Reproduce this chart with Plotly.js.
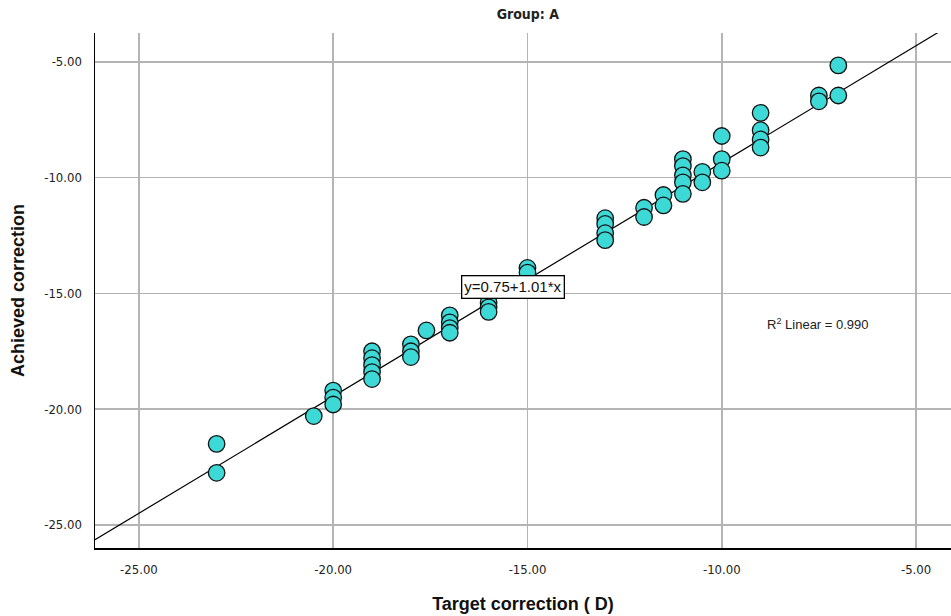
<!DOCTYPE html>
<html>
<head>
<meta charset="utf-8">
<script src="https://cdn.plot.ly/plotly-3.0.1.min.js"></script>
<style>html,body{margin:0;padding:0;background:#fff;}#chart{width:951px;height:616px;}</style>
</head>
<body>
<div id="chart"></div>
<script>
// Data
const targetX = [
  -23, -23,
  -20.5,
  -20, -20, -20,
  -19, -19, -19, -19, -19,
  -18, -18, -18,
  -17.6,
  -17, -17, -17, -17,
  -16, -16, -16,
  -15, -15,
  -13, -13, -13, -13,
  -12, -12,
  -11.5, -11.5,
  -11, -11, -11, -11, -11,
  -10.5, -10.5,
  -10, -10, -10,
  -9, -9, -9, -9,
  -7.5, -7.5,
  -7, -7
];
const achievedY = [
  -21.5, -22.75,
  -20.3,
  -19.2, -19.5, -19.8,
  -17.5, -17.8, -18.1, -18.4, -18.7,
  -17.2, -17.5, -17.75,
  -16.6,
  -15.95, -16.25, -16.5, -16.7,
  -15.4, -15.6, -15.8,
  -13.9, -14.1,
  -11.75, -12.0, -12.4, -12.7,
  -11.3, -11.7,
  -10.75, -11.2,
  -9.2, -9.5, -9.9, -10.2, -10.7,
  -9.75, -10.2,
  -8.2, -9.2, -9.7,
  -7.2, -7.95, -8.35, -8.7,
  -6.45, -6.7,
  -5.15, -6.45
];
const fitIntercept = 0.75;
const fitSlope = 1.01;
const rSquared = 0.990;
const xTicks = [-25, -20, -15, -10, -5];
const yTicks = [-25, -20, -15, -10, -5];
const xTickText = xTicks.map(v => v.toFixed(2));
const yTickText = yTicks.map(v => v.toFixed(2));
const xRange = [-26.13, -4.1];
const yRange = [-26.0, -3.75];

const fitX = xRange.slice();
const fitY = fitX.map(v => fitIntercept + fitSlope * v);

const narrow = "'DejaVu Sans Condensed', 'Liberation Sans Narrow', 'Arial Narrow', 'Liberation Sans', Arial, sans-serif";
const sans = "'Liberation Sans', Arial, sans-serif";

const traces = [
  {
    x: fitX, y: fitY, mode: 'lines', type: 'scatter',
    line: {color: '#000', width: 1.2}, hoverinfo: 'skip', showlegend: false
  },
  {
    x: targetX, y: achievedY, mode: 'markers', type: 'scatter',
    marker: {size: 16.5, color: '#3dd9d6', line: {color: '#111', width: 1.3}},
    showlegend: false
  }
];

const layout = {
  width: 951, height: 616,
  margin: {l: 95, r: 0, t: 33, b: 68},
  paper_bgcolor: '#fff', plot_bgcolor: '#fff',
  title: {text: '<b>Group: A</b>', font: {family: narrow, size: 14, color: '#222'}, x: 0.555, xanchor: 'center', y: 0.985, yanchor: 'top'},
  xaxis: {
    range: xRange, tickvals: xTicks, ticktext: xTickText,
    showgrid: true, gridcolor: '#b4b4b4', gridwidth: 1.5,
    zeroline: false, showline: true, linecolor: '#000', linewidth: 1.5,
    ticks: '', ticklabelstandoff: 9,
    tickfont: {family: narrow, size: 13, color: '#222'},
    title: {text: '<b>Target correction ( D)</b>', font: {family: sans, size: 18, color: '#111'}, standoff: 21}
  },
  yaxis: {
    range: yRange, tickvals: yTicks, ticktext: yTickText,
    showgrid: true, gridcolor: '#b4b4b4', gridwidth: 1.5,
    zeroline: false, showline: true, linecolor: '#000', linewidth: 1.5,
    ticks: '', ticklabelstandoff: 9,
    tickfont: {family: narrow, size: 13, color: '#222'},
    title: {text: '<b>Achieved correction</b>', font: {family: sans, size: 18, color: '#111'}, standoff: 15}
  },
  annotations: [
    {
      x: -15.38, y: -14.72, xref: 'x', yref: 'y', showarrow: false,
      text: 'y=' + fitIntercept.toFixed(2) + '+' + fitSlope.toFixed(2) + '*x',
      font: {family: sans, size: 15, color: '#111'},
      bgcolor: '#fff', bordercolor: '#000', borderwidth: 1.3, borderpad: 2
    },
    {
      x: -7.53, y: -16.32, xref: 'x', yref: 'y', showarrow: false,
      text: 'R<sup>2</sup> Linear = ' + rSquared.toFixed(3),
      font: {family: sans, size: 13, color: '#222'}
    }
  ]
};

Plotly.newPlot('chart', traces, layout, {displayModeBar: false, staticPlot: true});
</script>
</body>
</html>
